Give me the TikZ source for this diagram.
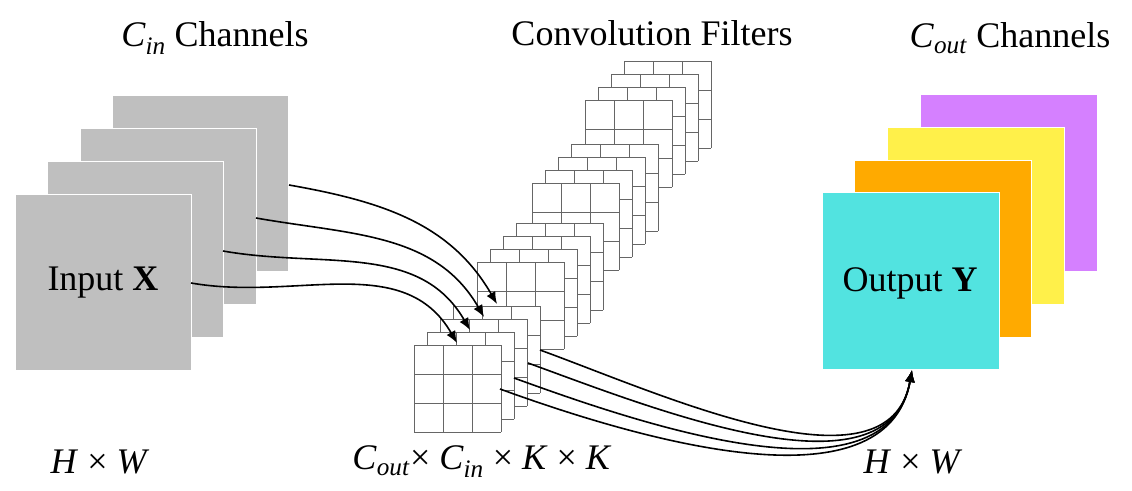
\documentclass[tikz,border=0pt]{standalone}
\usepackage{fontspec}
\setmainfont{Liberation Serif}
\usetikzlibrary{arrows.meta}
\definecolor{mapgray}{HTML}{BFBFBF}
\definecolor{outcyan}{HTML}{52E3E0}
\definecolor{outorange}{HTML}{FFAA00}
\definecolor{outyellow}{HTML}{FFF04A}
\definecolor{outpurple}{HTML}{D580FF}
\tikzset{
  fmap/.style={draw=white, line width=1pt},
  kgrid/.style={draw=black!60, line width=0.8pt},
  flow/.style={-{Latex[length=12pt,width=10pt]}, line width=1.6pt},
  lbl/.style={font=\fontsize{36}{42}\selectfont, inner sep=0pt}
}
\newcommand{\kernelgrid}[2]{%
  \begin{scope}[shift={(#1,#2)}]
    \fill[white] (0,0) rectangle (87,87);
    \draw[kgrid] (0,0) grid[step=29] (87,87);
  \end{scope}}
\newcommand{\vsub}[2]{\textit{#1}\textsubscript{\textit{#2}}}
\begin{document}
\begin{tikzpicture}[x=1pt,y=1pt]
\useasboundingbox (0,0) rectangle (1132,490);

% input feature maps
\foreach \i in {3,2,1,0}
  \filldraw[fmap, fill=mapgray] ({15+32.5*\i},{119+33*\i}) rectangle ++(176,176);
\node[lbl] (inp) at (103,207) {Input \textbf{X}};

% output feature maps
\foreach \i/\c in {3/outpurple,2/outyellow,1/outorange,0/outcyan}
  \filldraw[fmap, fill=\c] ({822+32.7*\i},{120+32.7*\i}) rectangle ++(177,177);
\node[lbl] (outp) at (910,207) {Output \textbf{Y}};
\coordinate (ytip) at (912,120);

% convolution filters, back group first
\foreach \gx/\gy in {585/303,532/220,477/141,414/58}
  \foreach \k in {3,2,1,0}
    \kernelgrid{\gx+13*\k}{\gy+13*\k};

% anchors for the connectors
\coordinate (x0) at (191,207);
\coordinate (x1) at (223,239);
\coordinate (x2) at (256,272);
\coordinate (x3) at (289,305);
\coordinate (k0) at (457,147);
\coordinate (k1) at (470,160);
\coordinate (k2) at (484,173);
\coordinate (k3) at (497,186);
\coordinate (f0) at (500,101);
\coordinate (f1) at (514,112);
\coordinate (f2) at (528,127);
\coordinate (f3) at (540,140);

\foreach \n in {0,1,2,3}
  \draw[flow] (x\n) to[out=-10,in=120] (k\n);
\foreach \n in {0,1,2,3}
  \draw[flow] (f\n) to[out=-20,in=-100,looseness=0.9] (ytip);

% labels
\node[lbl] (tin) at (215,452) {\vsub{C}{in} Channels};
\node[lbl] (tflt) at (652,457) {Convolution Filters};
\node[lbl] (tout) at (1010,452) {\vsub{C}{out} Channels};
\node[lbl] (hwin) at (100,28) {\textit{H} × \textit{W}};
\node[lbl] (dims) at (482,28) {\vsub{C}{out}× \vsub{C}{in} × \textit{K} × \textit{K}};
\node[lbl] (hwout) at (913,28) {\textit{H} × \textit{W}};
\end{tikzpicture}
\end{document}
